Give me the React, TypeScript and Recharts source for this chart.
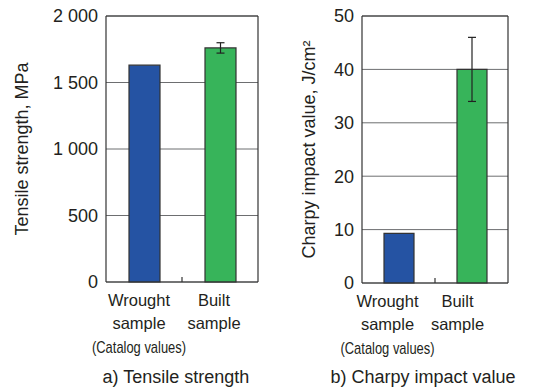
import React from "react";
import {
  BarChart,
  Bar,
  XAxis,
  YAxis,
  CartesianGrid,
  ErrorBar,
  Cell,
  ReferenceLine,
} from "recharts";

const categories = ["Wrought sample", "Built sample"];
const categoryNotes = ["(Catalog values)", ""];
const barColors = ["#2553a3", "#37b45a"];

const tensileValues = [1630, 1760];
const tensileErrors = [null, 39];
const tensileTicks = [0, 500, 1000, 1500, 2000];

const charpyValues = [9.3, 40];
const charpyErrors = [null, 6];
const charpyTicks = [0, 10, 20, 30, 40, 50];

const FONT = "'Liberation Sans', Arial, Helvetica, sans-serif";
const INK = "#231f20";

// "2 000" style thousands
const fmtThousands = (v: number) =>
  v >= 1000 ? `${Math.floor(v / 1000)} ${String(v % 1000).padStart(3, "0")}` : String(v);

const CategoryTick = (props: any) => {
  const { x, y, payload, shifts } = props;
  const i = payload.index ?? categories.indexOf(payload.value);
  const [first, second] = String(payload.value).split(" ");
  const cx = x + (shifts?.[i] ?? 0);
  // half band width from the band scale -> boundary between the categories
  const half = payload.offset ?? 0;
  return (
    <g>
      {i === 0 && half > 0 ? (
        <line x1={x + half} x2={x + half} y1={y} y2={y - 5} stroke="#333" strokeWidth={1.2} />
      ) : null}
      <text x={cx} y={y + 24} textAnchor="middle" fill={INK} fontSize={16.5} fontFamily={FONT}>
        {first}
      </text>
      <text x={cx} y={y + 47} textAnchor="middle" fill={INK} fontSize={16.5} fontFamily={FONT}>
        {second}
      </text>
      {categoryNotes[i] ? (
        // condensed look: squeeze glyphs into the narrow width of the original
        <text
          x={cx}
          y={y + 71}
          textAnchor="middle"
          fill={INK}
          fontSize={17}
          fontFamily={FONT}
          textLength={94}
          lengthAdjust="spacingAndGlyphs"
        >
          {categoryNotes[i]}
        </text>
      ) : null}
    </g>
  );
};

interface PanelProps {
  values: number[];
  errors: (number | null)[];
  ticks: number[];
  yLabel: string;
  yLabelDx: number;
  caption: string;
  captionDx: number;
  width: number;
  yAxisWidth: number;
  rightMargin: number;
  xAxisHeight: number;
  barSize: number;
  labelShifts: number[];
}

function Panel(p: PanelProps) {
  const data = categories.map((c, i) => ({ name: c, value: p.values[i], err: p.errors[i] }));
  const max = p.ticks[p.ticks.length - 1];
  return (
    <BarChart
      width={p.width}
      height={390}
      data={data}
      margin={{ top: 16, right: p.rightMargin, left: 0, bottom: 0 }}
      style={{ fontFamily: FONT }}
    >
      <CartesianGrid vertical={false} stroke="#6d6e70" strokeWidth={1} />
      <XAxis
        dataKey="name"
        height={p.xAxisHeight}
        axisLine={{ stroke: "#333", strokeWidth: 1.2 }}
        tickLine={false}
        tickSize={0}
        tickMargin={0}
        interval={0}
        tick={(t: any) => <CategoryTick {...t} shifts={p.labelShifts} />}
        label={{
          value: p.caption,
          position: "insideBottom",
          offset: 7,
          dx: p.captionDx,
          fill: INK,
          fontSize: 18,
        }}
      />
      <YAxis
        domain={[0, max]}
        ticks={p.ticks}
        width={p.yAxisWidth}
        axisLine={{ stroke: "#333", strokeWidth: 1.2 }}
        tickLine={false}
        tickFormatter={fmtThousands}
        tick={{ fill: INK, fontSize: 18 }}
        label={{
          value: p.yLabel,
          angle: -90,
          position: "center",
          dx: p.yLabelDx,
          fill: INK,
          fontSize: 18,
        }}
      />
      <YAxis
        yAxisId="frame"
        orientation="right"
        domain={[0, max]}
        ticks={p.ticks}
        width={1}
        tick={false}
        tickLine={false}
        axisLine={{ stroke: "#333", strokeWidth: 1.2 }}
      />
      <ReferenceLine y={max} stroke="#333" strokeWidth={1.2} />
      <Bar dataKey="value" barSize={p.barSize} stroke="#333" strokeWidth={1.2} isAnimationActive={false}>
        {data.map((d, i) => (
          <Cell key={d.name} fill={barColors[i]} />
        ))}
        <ErrorBar dataKey="err" width={4} stroke="#222" strokeWidth={1.2} direction="y" />
      </Bar>
    </BarChart>
  );
}

export default function App() {
  return (
    <div style={{ position: "absolute", left: 0, top: 0, width: 538, height: 390, background: "#fff" }}>
      <div style={{ position: "absolute", left: 0, top: 0 }}>
        <Panel
          values={tensileValues}
          errors={tensileErrors}
          ticks={tensileTicks}
          yLabel="Tensile strength, MPa"
          yLabelDx={-31}
          caption="a) Tensile strength"
          captionDx={-6}
          width={270}
          yAxisWidth={106}
          rightMargin={11}
          xAxisHeight={108}
          barSize={31}
          labelShifts={[-5, -6]}
        />
      </div>
      <div style={{ position: "absolute", left: 270, top: 0 }}>
        <Panel
          values={charpyValues}
          errors={charpyErrors}
          ticks={charpyTicks}
          yLabel="Charpy impact value, J/cm²"
          yLabelDx={-7}
          caption="b) Charpy impact value"
          captionDx={-12}
          width={268}
          yAxisWidth={92}
          rightMargin={29}
          xAxisHeight={107}
          barSize={30}
          labelShifts={[-11, -14]}
        />
      </div>
    </div>
  );
}
